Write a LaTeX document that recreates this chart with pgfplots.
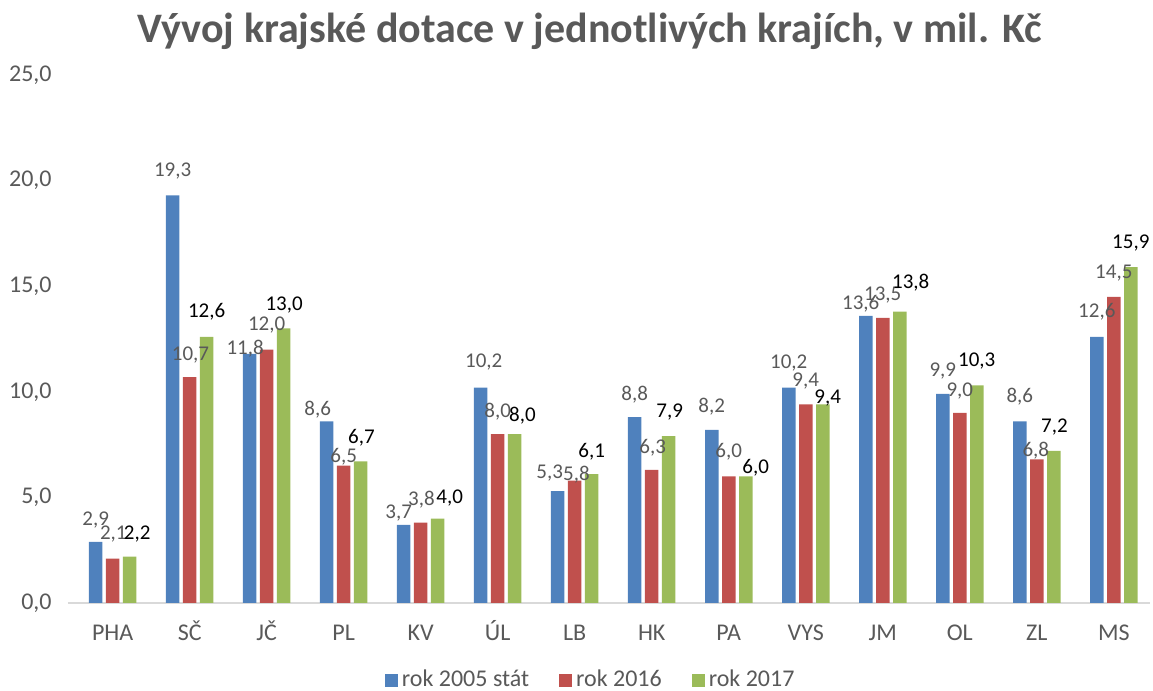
\documentclass[border=0pt]{standalone}
\usepackage{pgfplots}
\pgfplotsset{compat=1.18}
\usepackage{fontspec}
\setmainfont{Carlito}
\definecolor{sblue}{HTML}{4F81BD}
\definecolor{sred}{HTML}{C0504D}
\definecolor{sgreen}{HTML}{9BBB59}
\definecolor{txtgray}{HTML}{595959}
\definecolor{axgray}{HTML}{D9D9D9}

\tikzset{czfmt/.style={
    /pgf/number format/fixed, /pgf/number format/fixed zerofill,
    /pgf/number format/precision=1, /pgf/number format/use comma,
    /pgf/number format/assume math mode=true}}

% x = category, y = value, dx/dy = label offset (pt)
\pgfplotstableread{
x y dx dy
0 2.9 0 11.5
1 19.3 0 13
2 11.8 -2.25 3
3 8.6 -4.5 6.5
4 3.7 -2.5 6.5
5 10.2 1.5 13.5
6 5.3 -4 9.7
7 8.8 0 11.5
8 8.2 0 12
9 10.2 0 13
10 13.6 -2.5 6.5
11 9.9 0 12
12 8.6 0 12.7
13 12.6 0 13
}\dataA
\pgfplotstableread{
x y dx dy
0 2.1 0.35 12.8
1 10.7 0.4 11.5
2 12.0 0 12.8
3 6.5 0 4.85
4 3.8 0.35 12.25
5 8.0 0 11.65
6 5.8 0.85 3.25
7 6.3 0.5 11.5
8 6.0 0 12.8
9 9.4 0 12.25
10 13.5 0 12.3
11 9.0 0 11.85
12 6.8 -0.5 4.7
13 14.5 0 12.5
}\dataB
\pgfplotstableread{
x y dx dy
0 2.2 3.75 11.75
1 12.6 0 13
2 13.0 0.25 12.5
3 6.7 0.35 12.5
4 4.0 6 11
5 8.0 3.85 9.5
6 6.1 0 11.5
7 7.9 0.5 12.5
8 6.0 5 5
9 9.4 2.5 4
10 13.8 5.5 15
11 10.3 0 13
12 7.2 0.35 12.5
13 15.9 0 12.5
}\dataC

\begin{document}
\begin{tikzpicture}
\path[use as bounding box] (-34pt,-44pt) rectangle (542.5pt,301.5pt);
\begin{axis}[
    at={(0,0)}, anchor=south west,
    scale only axis,
    width=541pt, height=264pt,
    ybar=1.75pt, bar width=6.75pt,
    xmin=-0.58, xmax=13.47,
    ymin=0, ymax=25,
    xtick=data,
    xticklabels={PHA,SČ,JČ,PL,KV,ÚL,LB,HK,PA,VYS,JM,OL,ZL,MS},
    ytick={0,5,10,15,20,25},
    axis x line*=bottom, axis y line*=left,
    x axis line style={draw=axgray, line width=0.75pt, -},
    y axis line style={draw=none},
    major tick length=0pt,
    tick style={draw=none},
    xticklabel style={font=\fontsize{12}{14}\selectfont, text=txtgray, inner sep=0pt, text height=7.6pt, anchor=north, yshift=-11pt},
    yticklabel style={font=\fontsize{12}{14}\selectfont, text=txtgray, inner sep=0pt, anchor=east, xshift=-8pt, czfmt},
    nodes near coords,
    visualization depends on={\thisrow{dx} \as \ldx},
    visualization depends on={\thisrow{dy} \as \ldy},
    every node near coord/.append style={font=\fontsize{10.5}{12}\selectfont, text=txtgray, inner sep=0pt,
        text height=6.8pt, text depth=0pt, anchor=center, xshift=\ldx pt, yshift=\ldy pt, czfmt},
    title={Vývoj krajské dotace v jednotlivých krajích, v mil. Kč},
    title style={font=\fontsize{21}{24}\selectfont\bfseries, text=txtgray, at={(0.482,1)}, anchor=center, yshift=16pt},
    legend columns=3,
    legend style={draw=none, at={(0.484,-0.146)}, anchor=center, font=\fontsize{12}{14}\selectfont, text=txtgray,
        /tikz/every even column/.append style={column sep=13pt}},
    legend image code/.code={\fill[#1] (0pt,-3.25pt) rectangle (6.5pt,3.25pt);},
]
\addplot[fill=sblue, draw=none] table[x=x, y=y] {\dataA};
\addplot[fill=sred, draw=none] table[x=x, y=y] {\dataB};
\addplot[fill=sgreen, draw=none, every node near coord/.append style={text=black}] table[x=x, y=y] {\dataC};
\legend{rok 2005 stát, rok 2016, rok 2017}
\end{axis}
\end{tikzpicture}
\end{document}
